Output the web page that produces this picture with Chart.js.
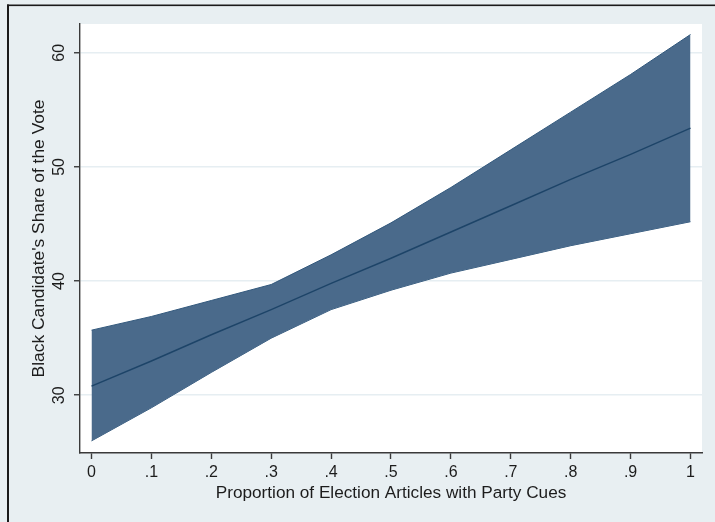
<!DOCTYPE html>
<html>
<head>
<meta charset="utf-8">
<script src="https://cdn.jsdelivr.net/npm/chart.js@4.4.1/dist/chart.umd.min.js"></script>
<style>
  html, body { margin: 0; padding: 0; background: #e8eff2; }
  #wrap { width: 715px; height: 522px; position: relative; }
</style>
</head>
<body>
<div id="wrap"><canvas id="chart" width="715" height="522"></canvas></div>
<script>
// Share of articles carrying party cues (x) and predicted vote share with 95% band
const proportion = [0, 0.1, 0.2, 0.3, 0.4, 0.5, 0.6, 0.7, 0.8, 0.9, 1];
const predicted  = [30.8, 33.0, 35.3, 37.5, 39.8, 42.0, 44.3, 46.6, 48.9, 51.1, 53.4];
const upperBound = [35.7, 36.9, 38.3, 39.7, 42.3, 45.1, 48.2, 51.5, 54.8, 58.1, 61.6];
const lowerBound = [26.0, 28.9, 32.0, 35.0, 37.5, 39.2, 40.7, 41.9, 43.1, 44.15, 45.2];

const xTickValues = [0, 0.1, 0.2, 0.3, 0.4, 0.5, 0.6, 0.7, 0.8, 0.9, 1];
const xTickLabels = ['0', '.1', '.2', '.3', '.4', '.5', '.6', '.7', '.8', '.9', '1'];
const yTickValues = [30, 40, 50, 60];
const yTickLabels = ['30', '40', '50', '60'];

const FONT = "'Liberation Sans', Arial, Helvetica, sans-serif";
const TEXT = '#1c1c1c';
const AXIS = '#3a3a3a';

const toPoints = ys => proportion.map((x, i) => ({ x: x, y: ys[i] }));

// Page background, white plot region and the frame line on the left/top
const backdrop = {
  id: 'backdrop',
  beforeDraw(chart) {
    const { ctx, chartArea: a, width, height } = chart;
    ctx.save();
    ctx.fillStyle = '#e8eff2';
    ctx.fillRect(0, 0, width, height);
    ctx.fillStyle = '#ffffff';
    ctx.fillRect(a.left, a.top, a.right - a.left, a.bottom - a.top);
    ctx.fillStyle = '#1a1a1a';
    ctx.fillRect(7, 4.5, 2, height - 4.5);
    ctx.fillRect(7, 4.5, width - 7, 1.6);
    ctx.restore();
  }
};

// Vertical y tick labels placed at the scale's own tick positions
const verticalYLabels = {
  id: 'verticalYLabels',
  afterDraw(chart) {
    const { ctx } = chart;
    const yScale = chart.scales.y;
    ctx.save();
    ctx.fillStyle = TEXT;
    ctx.font = '16px ' + FONT;
    ctx.textAlign = 'center';
    ctx.textBaseline = 'middle';
    yTickValues.forEach((v, i) => {
      const py = yScale.getPixelForValue(v);
      ctx.save();
      ctx.translate(60, py);
      ctx.rotate(-Math.PI / 2);
      ctx.fillText(yTickLabels[i], 0, 0);
      ctx.restore();
    });
    ctx.restore();
  }
};

new Chart(document.getElementById('chart'), {
  type: 'line',
  data: {
    datasets: [
      {
        label: 'lower',
        data: toPoints(lowerBound),
        borderColor: '#33597d',
        borderWidth: 1,
        pointRadius: 0,
        fill: false,
        tension: 0,
        order: 2
      },
      {
        label: 'upper',
        data: toPoints(upperBound),
        borderColor: '#33597d',
        borderWidth: 1,
        backgroundColor: '#4a6a8b',
        pointRadius: 0,
        fill: '-1',
        tension: 0,
        order: 1
      },
      {
        label: 'predicted',
        data: toPoints(predicted),
        borderColor: '#1d4468',
        borderWidth: 1.4,
        pointRadius: 0,
        fill: false,
        tension: 0,
        order: 0
      }
    ]
  },
  options: {
    responsive: false,
    animation: false,
    devicePixelRatio: 1,
    layout: { padding: { left: 0, top: 24, right: 13, bottom: 0 } },
    plugins: {
      legend: { display: false },
      tooltip: { enabled: false }
    },
    scales: {
      x: {
        type: 'linear',
        min: -0.0192,
        max: 1.0192,
        afterBuildTicks: s => { s.ticks = xTickValues.map(v => ({ value: v })); },
        afterFit: s => { s.height = 69; },
        ticks: {
          callback: (v, i) => xTickLabels[i],
          color: TEXT,
          font: { family: FONT, size: 16 },
          padding: 4,
          maxRotation: 0,
          autoSkip: false
        },
        grid: {
          drawOnChartArea: false,
          drawTicks: true,
          tickLength: 6,
          tickColor: AXIS,
          tickWidth: 1.4
        },
        border: { display: true, color: AXIS, width: 1.4 },
        title: {
          display: true,
          text: 'Proportion of Election Articles with Party Cues',
          color: TEXT,
          font: { family: FONT, size: 17.2 },
          padding: { top: 0, bottom: 18.5 }
        }
      },
      y: {
        type: 'linear',
        min: 24.94,
        max: 62.52,
        afterBuildTicks: s => { s.ticks = yTickValues.map(v => ({ value: v })); },
        afterFit: s => { s.width = 80; },
        ticks: { display: false },
        grid: {
          color: '#e6eef2',
          lineWidth: 1.5,
          drawTicks: true,
          tickLength: 6,
          tickColor: AXIS,
          tickWidth: 1.4
        },
        border: { display: true, color: AXIS, width: 1.4 },
        title: {
          display: true,
          text: "Black Candidate's Share of the Vote",
          color: TEXT,
          font: { family: FONT, size: 17.4 },
          padding: { top: 28.6, bottom: 0 }
        }
      }
    }
  },
  plugins: [backdrop, verticalYLabels]
});
</script>
</body>
</html>
